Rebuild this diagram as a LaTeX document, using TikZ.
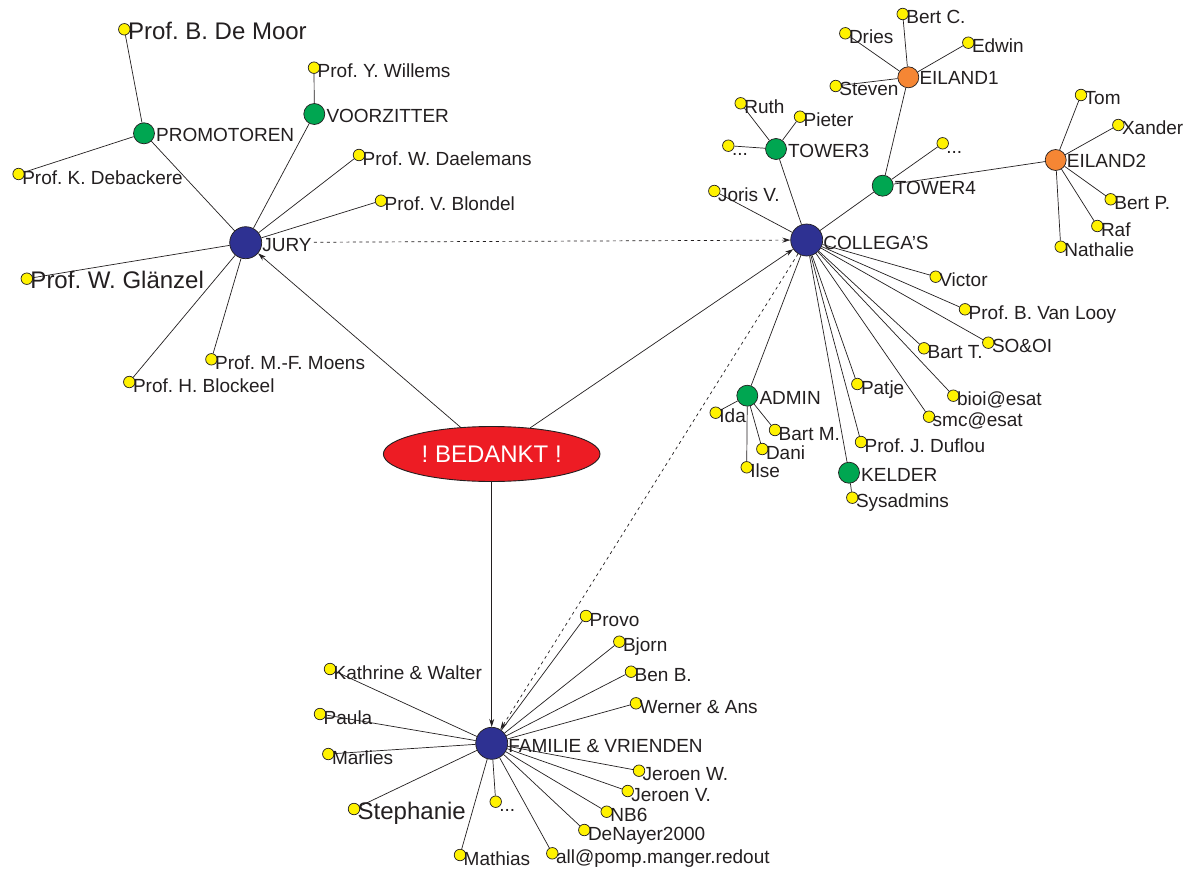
\documentclass[tikz,border=0pt]{standalone}
\usepackage{fontspec}
\setmainfont{Liberation Sans}
\usetikzlibrary{arrows.meta,shapes.geometric}
\frenchspacing

\definecolor{ink}{HTML}{231F20}
\definecolor{hubblue}{HTML}{2E3192}
\definecolor{subgreen}{HTML}{00A651}
\definecolor{isleorange}{HTML}{F58634}
\definecolor{dotyellow}{HTML}{FFF200}
\definecolor{thanksred}{HTML}{ED1C24}

\tikzset{
  dotbase/.style={circle, draw=ink, line width=0.7pt, inner sep=0pt},
  leafdot/.style={dotbase, fill=dotyellow, minimum size=11.5pt},
  subdot/.style={dotbase, fill=subgreen, minimum size=21pt},
  isledot/.style={dotbase, fill=isleorange, minimum size=21pt},
  hubdot/.style={dotbase, fill=hubblue, minimum size=32pt},
  lbl/.style={anchor=base west, inner sep=0pt, text=ink, font=\fontsize{19}{22}\selectfont},
  biglbl/.style={lbl, font=\fontsize{24}{28}\selectfont},
  link/.style={draw=ink, line width=0.7pt},
  arr/.style={link, -{Stealth[length=8pt,width=5pt]}},
  dots/.style={arr, dash pattern=on 3pt off 3.5pt},
}

% yellow leaf with its name to the right
\newcommand\LeafNode[4][lbl]{%
  \node[leafdot] (#2) at (#3) {};
  \node[#1] (#2-t) at ([xshift=3.5pt,yshift=-10pt]#2.center) {#4};}
% green sub-group
\newcommand\SubNode[3]{%
  \node[subdot] (#1) at (#2) {};
  \node[lbl] (#1-t) at ([xshift=12pt,yshift=-8.5pt]#1.center) {#3};}
% orange island
\newcommand\IsleNode[3]{%
  \node[isledot] (#1) at (#2) {};
  \node[lbl] (#1-t) at ([xshift=11pt,yshift=-7.5pt]#1.center) {#3};}
% blue main group
\newcommand\HubNode[3]{%
  \node[hubdot] (#1) at (#2) {};
  \node[lbl] (#1-t) at ([xshift=16.5pt,yshift=-9pt]#1.center) {#3};}

\begin{document}
\begin{tikzpicture}[x=1pt,y=-1pt]
\fill[white] (0,0) rectangle (1191,872);
\useasboundingbox (0,0) rectangle (1191,872);

% ---------- centre ----------
\node[ellipse, fill=thanksred, draw=ink, line width=0.9pt, inner sep=0pt,
      minimum width=216.6pt, minimum height=55pt, text=white,
      font=\fontsize{24}{28}\selectfont] (thanks) at (491.7,454) {! BEDANKT !};

% ---------- jury ----------
\HubNode{jury}{245.7,242.7}{JURY}
\SubNode{promotoren}{144,133.3}{PROMOTOREN}
\SubNode{voorzitter}{314.3,114}{VOORZITTER}
\LeafNode[biglbl]{demoor}{124.3,29.3}{Prof. B. De Moor}
\LeafNode{willems}{314,67.7}{Prof. Y. Willems}
\LeafNode{debackere}{18.6,174}{Prof. K. Debackere}
\LeafNode{daelemans}{359,155}{Prof. W. Daelemans}
\LeafNode{blondel}{381,200.7}{Prof. V. Blondel}
\LeafNode[biglbl]{glanzel}{26.8,278.7}{Prof. W. Glänzel}
\LeafNode{moens}{211.4,359.3}{Prof. M.-F. Moens}
\LeafNode{blockeel}{129.3,382}{Prof. H. Blockeel}

% ---------- collega's ----------
\HubNode{collegas}{806.7,240}{COLLEGA'S}
\SubNode{tower3}{776,149}{TOWER3}
\SubNode{tower4}{882.7,185.7}{TOWER4}
\IsleNode{eiland1}{908.3,77.3}{EILAND1}
\IsleNode{eiland2}{1055.7,160}{EILAND2}
\SubNode{admin}{747.3,395.7}{ADMIN}
\SubNode{kelder}{849,472.7}{KELDER}
\LeafNode{bertc}{902.7,14}{Bert C.}
\LeafNode{dries}{845.3,33.3}{Dries}
\LeafNode{edwin}{968.3,42.7}{Edwin}
\LeafNode{steven}{835.7,86}{Steven}
\LeafNode{ruth}{740.7,103.3}{Ruth}
\LeafNode{pieter}{800,116.7}{Pieter}
\LeafNode{tthree}{728.3,145.7}{...}
\LeafNode{tfour}{942.7,143.3}{...}
\LeafNode{tom}{1081,95}{Tom}
\LeafNode{xander}{1118.3,125}{Xander}
\LeafNode{bertp}{1110.7,199.3}{Bert P.}
\LeafNode{raf}{1097.3,226}{Raf}
\LeafNode{nathalie}{1060.7,246.7}{Nathalie}
\LeafNode{joris}{714.3,191}{Joris V.}
\LeafNode{victor}{935.7,276.7}{Victor}
\LeafNode{vanlooy}{965,309.3}{Prof. B. Van Looy}
\LeafNode{sooi}{988.3,342.7}{SO\&OI}
\LeafNode{bartt}{924,348.3}{Bart T.}
\LeafNode{patje}{857.3,384}{Patje}
\LeafNode{bioi}{953.3,395.7}{bioi@esat}
\LeafNode{smc}{929,416.7}{smc@esat}
\LeafNode{duflou}{861,442}{Prof. J. Duflou}
\LeafNode{ida}{715.7,412.7}{Ida}
\LeafNode{bartm}{775,430}{Bart M.}
\LeafNode{dani}{762.3,449}{Dani}
\LeafNode{ilse}{746.7,467.3}{Ilse}
\LeafNode{sysadmins}{852.3,497.7}{Sysadmins}

% ---------- familie & vrienden ----------
\HubNode{familie}{491.7,743.3}{FAMILIE \& VRIENDEN}
\LeafNode{provo}{586,616}{Provo}
\LeafNode{bjorn}{619.3,641.7}{Bjorn}
\LeafNode{benb}{631,671.7}{Ben B.}
\LeafNode{werner}{636,703.3}{Werner \& Ans}
\LeafNode{kathrine}{330,669}{Kathrine \& Walter}
\LeafNode{paula}{320,714}{Paula}
\LeafNode{marlies}{328.3,754}{Marlies}
\LeafNode[biglbl]{stephanie}{354,809}{Stephanie}
\LeafNode{fdots}{495.7,801.7}{...}
\LeafNode{mathias}{460,855}{Mathias}
\LeafNode{allpomp}{552.3,853.3}{all@pomp.manger.redout}
\LeafNode{denayer}{584.3,830}{DeNayer2000}
\LeafNode{nbsix}{606.7,811.7}{NB6}
\LeafNode{jeroenv}{627.7,791}{Jeroen V.}
\LeafNode{jeroenw}{639,770.7}{Jeroen W.}

% ---------- links ----------
\foreach \a/\b in {jury/promotoren, jury/voorzitter, jury/daelemans, jury/blondel,
    jury/glanzel, jury/moens, jury/blockeel, promotoren/demoor,
    promotoren/debackere, voorzitter/willems,
    collegas/tower3, collegas/tower4, collegas/joris, collegas/victor,
    collegas/vanlooy, collegas/sooi, collegas/bartt, collegas/patje,
    collegas/bioi, collegas/smc, collegas/duflou, collegas/admin,
    collegas/kelder, tower3/ruth, tower3/pieter, tower3/tthree,
    tower4/tfour, tower4/eiland1, tower4/eiland2, eiland1/bertc,
    eiland1/dries, eiland1/edwin, eiland1/steven, eiland2/tom,
    eiland2/xander, eiland2/bertp, eiland2/raf, eiland2/nathalie,
    admin/ida, admin/bartm, admin/dani, admin/ilse, kelder/sysadmins,
    familie/provo, familie/bjorn, familie/benb, familie/werner,
    familie/kathrine, familie/paula, familie/marlies, familie/stephanie,
    familie/fdots, familie/mathias, familie/allpomp, familie/denayer,
    familie/nbsix, familie/jeroenv, familie/jeroenw}
  \draw[link] (\a) -- (\b);

\draw[arr] (thanks) -- (jury);
\draw[arr] (thanks) -- (collegas);
\draw[arr] (thanks) -- (familie);
\draw[dots] ([xshift=2pt,yshift=3pt]jury-t.east) -- (collegas);
\draw[dots] (collegas) -- (familie);
\end{tikzpicture}
\end{document}
